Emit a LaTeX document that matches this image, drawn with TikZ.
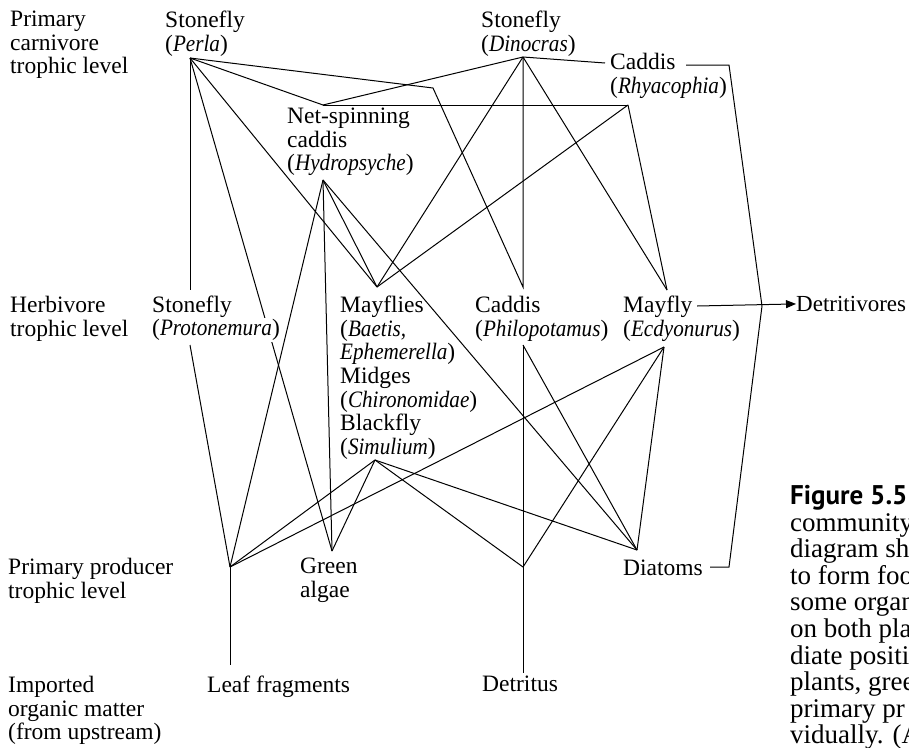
\documentclass[tikz,border=0pt]{standalone}
\usepackage{fontspec}
\setmainfont{Liberation Serif}[ItalicFeatures={FakeStretch=0.9}]
\setsansfont{PT Sans}
\usetikzlibrary{arrows.meta,backgrounds}

\begin{document}
\begin{tikzpicture}[x=1pt,y=-1pt,>={Triangle[length=10pt,width=8pt]},
  lbl/.style={inner sep=0pt,anchor=north west,align=left,
    font=\fontsize{23.5}{23.6}\selectfont},
  web/.style={line width=1pt}]
  \useasboundingbox (0,0) rectangle (909,747);
  % trophic levels
  \node[lbl] (carn) at (10,11) {Primary\\carnivore\\trophic level};
  \node[lbl] (herb) at (10,296) {Herbivore\\trophic level};
  \node[lbl] (prod) at (8,558) {Primary producer\\trophic level};
  \node[lbl] (imp) at (8,676) {Imported\\organic matter\\(from upstream)};
  % organisms
  \node[lbl] (perla) at (165,11) {Stonefly\\(\textit{Perla})};
  \node[lbl] (dino) at (481,11) {Stonefly\\(\textit{Dinocras})};
  \node[lbl] (rhya) at (610,53) {Caddis\\(\textit{Rhyacophia})};
  \node[lbl] (hydro) at (287,108) {Net-spinning\\caddis\\(\textit{Hydropsyche})};
  \node[lbl] (proto) at (152,296) {Stonefly};
  \node[lbl,inner sep=1pt,fill=white] (protoSp) at (151,318) {(\textit{Protonemura})};
  \node[lbl] (mayflies) at (340,296) {Mayflies\\(\textit{Baetis,}\\\textit{Ephemerella})\\Midges\\(\textit{Chironomidae})\\Blackfly\\(\textit{Simulium})};
  \node[lbl] (philo) at (475,296) {Caddis\\(\textit{Philopotamus})};
  \node[lbl] (ecdy) at (623,296) {Mayfly\\(\textit{Ecdyonurus})};
  \node[lbl,font=\fontsize{23}{23.6}\selectfont] (detritiv) at (796,296) {Detritivores};
  \node[lbl] (algae) at (300,558) {Green\\algae};
  \node[lbl] (diatoms) at (623,560) {Diatoms};
  \node[lbl] (leaf) at (207,676) {Leaf fragments};
  \node[lbl] (detritus) at (482,676) {Detritus};
  \node[lbl,font=\fontsize{27}{26.6}\selectfont] (caption) at (790,485)
    {{\sffamily\bfseries Figure 5.5}\\community\\diagram sh\\to form foo\\some organ\\on both pla\\diate positi\\plants, gree\\primary pr\\vidually. (A};
  % link points
  \coordinate (perlaB) at (190,58);
  \coordinate (perlaK) at (433,88);
  \coordinate (dinoB) at (523,57);
  \coordinate (rhyaL) at (605,63);
  \coordinate (rhyaR) at (686,65);
  \coordinate (rhyaB) at (628,105);
  \coordinate (hydroT) at (323,105);
  \coordinate (hydroB) at (323,180);
  \coordinate (protoT) at (190,290);
  \coordinate (protoB) at (190,345);
  \coordinate (mayT) at (377,287);
  \coordinate (simB) at (375,460);
  \coordinate (philoT) at (523,287);
  \coordinate (philoB) at (523,345);
  \coordinate (ecdyT) at (667,290);
  \coordinate (ecdyB) at (664,347);
  \coordinate (ecdyR) at (697,306);
  \coordinate (leafV) at (230,567);
  \coordinate (leafT) at (230,665);
  \coordinate (algaeT) at (332,551);
  \coordinate (detV) at (523,567);
  \coordinate (detT) at (523,673);
  \coordinate (diatT) at (637,550);
  \coordinate (diatR) at (710,567);
  \coordinate (brTop) at (729,65);
  \coordinate (brMid) at (762,306);
  \coordinate (brBot) at (729,567);
  \begin{scope}[on background layer]
    \draw[web] (perlaB) -- (hydroT) -- (dinoB) -- (rhyaL);
    \draw[web] (perlaB) -- (perlaK) -- (philoT) -- (dinoB);
    \draw[web] (perlaB) -- (protoT);
    \draw[web] (perlaB) -- (algaeT);
    \draw[web] (perlaB) -- (mayT);
    \draw[web] (dinoB) -- (mayT);
    \draw[web] (dinoB) -- (ecdyT);
    \draw[web] (hydroT) -- (rhyaB);
    \draw[web] (rhyaB) -- (mayT);
    \draw[web] (rhyaB) -- (ecdyT);
    \draw[web] (hydroB) -- (leafV);
    \draw[web] (hydroB) -- (algaeT);
    \draw[web] (hydroB) -- (mayT);
    \draw[web] (hydroB) -- (diatT);
    \draw[web] (protoB) -- (leafV);
    \draw[web] (simB) -- (leafV);
    \draw[web] (simB) -- (algaeT);
    \draw[web] (simB) -- (detV);
    \draw[web] (simB) -- (diatT);
    \draw[web] (philoB) -- (detV);
    \draw[web] (philoB) -- (diatT);
    \draw[web] (ecdyB) -- (leafV);
    \draw[web] (ecdyB) -- (detV);
    \draw[web] (ecdyB) -- (diatT);
    \draw[web] (leafV) -- (leafT);
    \draw[web] (detV) -- (detT);
  \end{scope}
  % detritus bracket
  \draw[web] (rhyaR) -- (brTop) -- (brMid) -- (brBot) -- (diatR);
  \draw[web,->] (ecdyR) -- (detritiv.west);
\end{tikzpicture}
\end{document}
